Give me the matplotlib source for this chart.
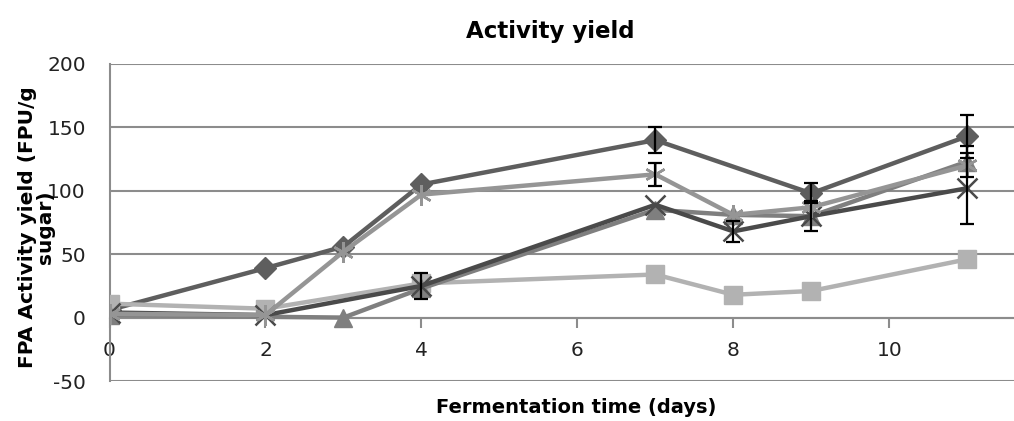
import matplotlib
matplotlib.use("Agg")
import matplotlib.pyplot as plt
import numpy as np

plt.rcParams['axes.unicode_minus'] = False

title = "Activity yield"
xlabel = "Fermentation time (days)"
ylabel = "FPA Activity yield (FPU/g\nsugar)"

diamond_x = [0, 2, 3, 4, 7, 9, 11]
diamond_y = [6, 39, 56, 105, 140, 98, 143]
diamond_err = [0, 0, 0, 0, 10, 8, 17]

square_x = [0, 2, 4, 7, 8, 9, 11]
square_y = [11, 7, 27, 34, 18, 21, 46]

triangle_x = [0, 3, 4, 7, 8, 9, 11]
triangle_y = [2, 0, 23, 85, 81, 80, 123]
triangle_err = [0, 0, 0, 0, 0, 0, 12]

cross_x = [0, 2, 4, 7, 8, 9, 11]
cross_y = [4, 2, 25, 89, 68, 80, 102]
cross_err = [0, 0, 10, 0, 8, 12, 28]

star_x = [0, 2, 3, 4, 7, 8, 9, 11]
star_y = [3, 2, 52, 97, 113, 81, 87, 120]
star_err = [0, 0, 0, 0, 9, 0, 0, 0]

xticks = [0, 2, 4, 6, 8, 10]
yticks = [-50, 0, 50, 100, 150, 200]

fig = plt.figure(figsize=(10.14, 4.21), dpi=100)
ax = fig.add_axes([0.108, 0.095, 0.892, 0.753])

lw = 3.2

def series(x, y, err, color, marker, ms_, mew=1.0):
    ax.plot(x, y, color=color, lw=lw, marker=marker, markersize=ms_,
            markerfacecolor=color, markeredgecolor=color,
            markeredgewidth=mew, zorder=3)
    if err is not None:
        e = np.array(err, dtype=float)
        m = e > 0
        ax.errorbar(np.array(x)[m], np.array(y)[m], yerr=e[m], fmt='none',
                    ecolor='black', elinewidth=1.6, capsize=5, capthick=1.6, zorder=4)

series(diamond_x, diamond_y, diamond_err, '#5e5e5e', 'D', 11)
series(square_x, square_y, None, '#b2b2b2', 's', 13)
series(triangle_x, triangle_y, triangle_err, '#7f7f7f', '^', 13)
series(cross_x, cross_y, cross_err, '#4a4a4a', 'x', 14, mew=1.8)
series(star_x, star_y, star_err, '#959595', (6, 2, 0), 15, mew=1.8)

ax.set_xlim(0, 11.6)
ax.set_ylim(-50, 200)
ax.set_yticks(yticks)
ax.set_xticks(xticks)
ax.yaxis.grid(True, color='#8c8c8c', lw=1.5, zorder=0)
ax.set_axisbelow(True)

for s in ['top', 'right']:
    ax.spines[s].set_visible(False)
ax.spines['left'].set_color('#8c8c8c')
ax.spines['left'].set_linewidth(1.5)
ax.spines['bottom'].set_position(('data', 0))
ax.spines['bottom'].set_color('#8c8c8c')
ax.spines['bottom'].set_linewidth(1.5)

ax.tick_params(axis='y', length=0, pad=17, labelsize=14.5, labelcolor='#222222')
ax.tick_params(axis='x', direction='out', length=7, width=1.5, color='#8c8c8c',
               pad=10, labelsize=14.5, labelcolor='#222222')

fig.text(0.543, 0.925, title, ha='center', va='center', fontsize=16.5,
         fontweight='bold')
fig.text(0.568, 0.033, xlabel, ha='center', va='center', fontsize=14, fontweight='bold')
fig.text(0.036, 0.46, ylabel, ha='center', va='center', rotation=90,
         fontsize=14.5, fontweight='bold', linespacing=0.95)

fig.savefig('out.png', dpi=100)
